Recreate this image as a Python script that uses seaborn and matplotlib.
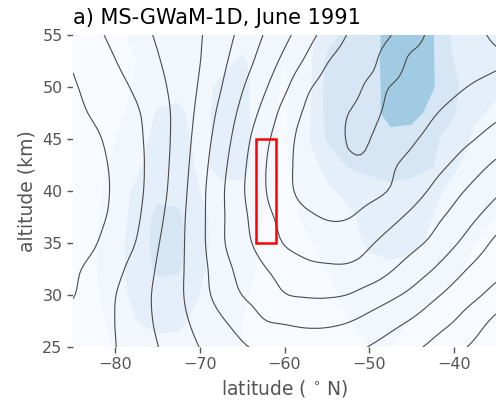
import numpy as np
import matplotlib
matplotlib.use("Agg")
import matplotlib.pyplot as plt
from matplotlib.patches import Rectangle
import seaborn as sns

# grid
lat = [-85, -82.5, -80, -77.5, -75, -72.5, -70, -67.5, -65, -62.5, -60,
       -57.5, -55, -52.5, -50, -47.5, -45, -42.5, -40, -37.5, -35]
alt = [25, 27.5, 30, 32.5, 35, 37.5, 40, 42.5, 45, 47.5, 50, 52.5, 55]

# contour-line field (arbitrary units, one unit per drawn contour)
wind_25 = [1.4, 1.69, 1.98, 2.48, 2.98, 3.5, 4.02, 4.46, 4.89, 5.2, 5.4, 5.5, 5.45, 5.3, 4.97, 4.6, 4.22, 3.8, 3.3, 2.83, 2.4]
wind_27 = [1.35, 1.68, 2.01, 2.57, 3.13, 3.72, 4.31, 4.89, 5.39, 5.95, 6.1, 6.2, 6.2, 6.05, 5.72, 5.33, 4.93, 4.46, 4.01, 3.39, 2.8]
wind_30 = [0.95, 1.47, 1.98, 2.57, 3.18, 3.82, 4.61, 5.36, 6.01, 6.42, 6.95, 7.08, 7.1, 6.98, 6.6, 6.21, 5.77, 5.2, 4.68, 4.18, 3.64]
wind_32 = [0.85, 1.24, 1.75, 2.36, 3.09, 3.8, 4.64, 5.57, 6.32, 6.91, 7.4, 7.75, 7.85, 7.85, 7.6, 7.1, 6.57, 6.02, 5.37, 4.8, 4.33]
wind_35 = [0.6, 0.93, 1.47, 2.04, 2.93, 3.75, 4.71, 5.82, 6.66, 7.38, 8.05, 8.35, 8.5, 8.45, 8.1, 7.68, 7.27, 6.79, 6.13, 5.46, 4.8]
wind_37 = [0.4, 0.76, 1.21, 1.85, 2.73, 3.69, 4.71, 5.82, 6.75, 7.67, 8.29, 8.8, 9.06, 9.04, 8.67, 8.26, 7.81, 7.29, 6.73, 6.1, 5.51]
wind_40 = [0.35, 0.71, 1.13, 1.75, 2.56, 3.57, 4.68, 5.82, 6.88, 7.88, 8.65, 9.35, 9.45, 9.5, 9.3, 8.94, 8.4, 7.86, 7.28, 6.72, 6.17]
wind_42 = [0.4, 0.75, 1.16, 1.74, 2.49, 3.47, 4.57, 5.68, 6.78, 7.87, 8.69, 9.4, 9.65, 9.88, 9.82, 9.15, 8.76, 8.33, 7.88, 7.35, 6.83]
wind_45 = [0.5, 0.85, 1.29, 1.8, 2.48, 3.38, 4.43, 5.48, 6.57, 7.68, 8.6, 9.35, 9.64, 10.03, 10.02, 9.5, 9.12, 8.75, 8.37, 8.01, 7.6]
wind_47 = [0.75, 1.11, 1.5, 1.9, 2.54, 3.33, 4.27, 5.25, 6.27, 7.27, 8.33, 9.12, 9.54, 9.99, 10.15, 9.83, 9.45, 9.08, 8.77, 8.49, 8.2]
wind_50 = [0.9, 1.31, 1.71, 2.16, 2.73, 3.37, 4.1, 4.97, 5.92, 6.82, 7.8, 8.8, 9.31, 9.65, 10.1, 9.99, 9.71, 9.43, 9.16, 8.91, 8.7]
wind_52 = [1.1, 1.55, 1.98, 2.46, 2.93, 3.45, 3.98, 4.75, 5.55, 6.38, 7.25, 8.13, 8.94, 9.38, 9.8, 10.25, 9.9, 9.75, 9.55, 9.3, 9.1]
wind_55 = [1.4, 1.8, 2.23, 2.67, 3.1, 3.52, 3.93, 4.57, 5.26, 6.01, 6.74, 7.57, 8.36, 9.04, 9.51, 9.98, 10.2, 9.84, 9.51, 9.18, 8.86]

# shaded field (band index 0..4)
shade_25 = [0.5, 0.6, 1.1, 1.5, 1.7, 1.7, 1.4, 1.2, 1.0, 0.8, 0.7, 0.7, 0.8, 0.9, 1.0, 1.0, 0.9, 0.8, 0.7, 0.6, 0.6]
shade_27 = [0.5, 0.7, 1.3, 2.0, 2.3, 2.2, 1.7, 1.3, 1.0, 0.8, 0.7, 0.8, 0.9, 1.0, 1.1, 1.1, 1.0, 0.9, 0.8, 0.7, 0.6]
shade_30 = [0.5, 0.8, 1.6, 2.3, 2.6, 2.6, 2.0, 1.4, 1.1, 0.8, 0.7, 0.8, 0.9, 1.1, 1.3, 1.3, 1.2, 1.0, 0.9, 0.8, 0.7]
shade_32 = [0.5, 0.9, 1.7, 2.4, 3.2, 3.1, 2.2, 1.5, 1.2, 0.9, 0.7, 0.8, 1.0, 1.3, 1.6, 1.8, 1.6, 1.3, 1.1, 0.9, 0.8]
shade_35 = [0.5, 0.9, 1.7, 2.4, 3.4, 3.3, 2.3, 1.6, 1.3, 0.9, 0.7, 0.9, 1.2, 1.6, 2.2, 2.4, 2.3, 1.8, 1.3, 1.0, 0.9]
shade_37 = [0.5, 0.8, 1.6, 2.3, 3.3, 3.2, 2.2, 1.7, 1.5, 1.0, 0.8, 1.1, 1.4, 1.8, 2.3, 2.6, 2.5, 2.0, 1.5, 1.1, 1.0]
shade_40 = [0.5, 0.7, 1.5, 2.2, 2.7, 2.7, 2.0, 1.8, 1.7, 1.2, 0.8, 1.2, 1.8, 2.3, 2.6, 2.8, 2.7, 2.3, 1.7, 1.3, 1.2]
shade_42 = [0.5, 0.6, 1.2, 1.8, 2.5, 2.6, 1.8, 2.3, 2.4, 1.3, 0.9, 1.4, 2.4, 3.1, 3.3, 3.4, 3.3, 3.1, 2.2, 1.6, 1.4]
shade_45 = [0.5, 0.6, 1.0, 1.5, 2.4, 2.5, 1.6, 2.4, 2.5, 1.2, 0.9, 1.8, 3.1, 3.3, 3.4, 3.5, 3.4, 3.2, 2.6, 1.8, 1.5]
shade_47 = [0.5, 0.5, 0.8, 1.3, 2.1, 2.2, 1.6, 2.4, 2.5, 1.2, 0.9, 1.6, 3.3, 3.4, 3.3, 4.6, 4.5, 3.6, 3.1, 2.2, 1.8]
shade_50 = [0.5, 0.5, 0.7, 1.1, 1.6, 1.7, 1.5, 2.3, 2.4, 1.3, 0.9, 1.5, 3.3, 3.5, 3.3, 4.6, 4.7, 4.1, 3.2, 2.5, 2.2]
shade_52 = [0.5, 0.5, 0.7, 1.0, 1.4, 1.5, 1.4, 1.6, 2.2, 1.3, 1.0, 1.5, 3.2, 3.5, 3.4, 4.6, 4.7, 4.1, 3.0, 2.5, 2.2]
shade_55 = [0.5, 0.5, 0.8, 1.2, 1.5, 1.8, 1.5, 1.5, 1.5, 1.2, 1.0, 1.6, 2.6, 3.3, 3.4, 4.5, 4.6, 4.1, 2.8, 2.4, 2.0]

line_levels = [1, 2, 3, 4, 5, 6, 7, 8, 9, 10]
shade_levels = [0, 1, 2, 3, 4, 6]
shade_tones = [0.0, 0.035, 0.09, 0.167, 0.37]

box_lat = [-63.4, -61.05]
box_alt = [35, 45]

xticks = [-80, -70, -60, -50, -40]
yticks = [25, 30, 35, 40, 45, 50, 55]

title = "a) MS-GWaM-1D, June 1991"
xlabel = "latitude ($\\,^\\circ\\,$N)"
ylabel = "altitude (km)"

wind = np.array([wind_25, wind_27, wind_30, wind_32, wind_35, wind_37, wind_40,
                 wind_42, wind_45, wind_47, wind_50, wind_52, wind_55])
shade = np.array([shade_25, shade_27, shade_30, shade_32, shade_35, shade_37, shade_40,
                  shade_42, shade_45, shade_47, shade_50, shade_52, shade_55])


def refine(a, f, axis):
    """Catmull-Rom refinement of a regular grid (for smoother drawing only)."""
    a = np.moveaxis(np.asarray(a, float), axis, 0)
    n = a.shape[0]
    p = np.concatenate([2 * a[:1] - a[1:2], a, 2 * a[-1:] - a[-2:-1]], axis=0)
    t = np.linspace(0, n - 1, (n - 1) * f + 1)
    i = np.clip(np.floor(t).astype(int), 0, n - 2)
    s = (t - i)
    sh = (-1,) + (1,) * (a.ndim - 1)
    s = s.reshape(sh)
    w0 = (-s ** 3 + 2 * s ** 2 - s) / 2
    w1 = (3 * s ** 3 - 5 * s ** 2 + 2) / 2
    w2 = (-3 * s ** 3 + 4 * s ** 2 + s) / 2
    w3 = (s ** 3 - s ** 2) / 2
    out = w0 * p[i] + w1 * p[i + 1] + w2 * p[i + 2] + w3 * p[i + 3]
    return np.moveaxis(out, 0, axis)


F = 5
lat_f = refine(lat, F, 0)
alt_f = refine(alt, F, 0)
wind_f = refine(refine(wind, F, 0), F, 1)

sns.set_theme(style="ticks")
plt.rcParams['font.family'] = ['DejaVu Sans']

fig = plt.figure(figsize=(4.96, 4.04), dpi=100)
ax = fig.add_axes([73 / 496, 57 / 404, 423 / 496, 312 / 404])

blues = sns.color_palette("Blues", as_cmap=True)
band_colors = [blues(t) for t in shade_tones]
ax.contourf(lat, alt, shade, levels=shade_levels, colors=band_colors, antialiased=True)
ax.contour(lat_f, alt_f, wind_f, levels=line_levels, colors='#4a4a4a', linewidths=0.8)

ax.add_patch(Rectangle((box_lat[0], box_alt[0]), box_lat[1] - box_lat[0],
                       box_alt[1] - box_alt[0], fill=False, edgecolor='red',
                       linewidth=1.8, zorder=5))

ax.set_xlim(-85, -35)
ax.set_ylim(25, 55)
ax.set_xticks(xticks)
ax.set_yticks(yticks)

gray = '#555555'
ax.tick_params(axis='both', colors=gray, labelsize=11.5, length=4, width=1)
ax.set_xlabel(xlabel, fontsize=13.5, color=gray)
ax.set_ylabel(ylabel, fontsize=13.5, color=gray)
ax.set_title(title, loc='left', fontsize=15, color='black', pad=8)
sns.despine(ax=ax, left=True, bottom=True)

fig.savefig("out.png", dpi=100)
